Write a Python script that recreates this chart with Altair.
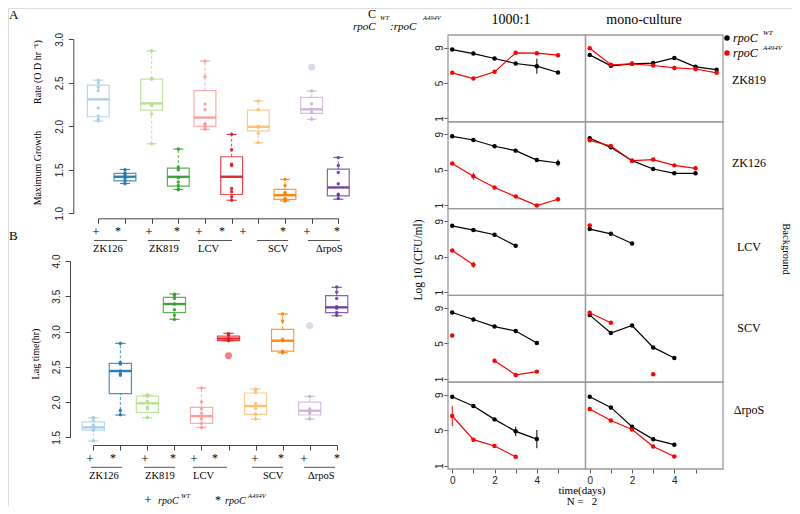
import altair as alt
import pandas as pd

# ------------------------------------------------------------------ data
STRAINS = ["ZK126", "ZK819", "LCV", "SCV", "ΔrpoS"]
ALLELES = ["WT", "A494V"]
BOXES = [f"{s} {a}" for s in STRAINS for a in ALLELES]

# Panel A : maximum growth rate (box statistics + individual replicates)
A_LO = [2.06, 1.343, 1.80, 1.274, 1.965, 1.15, 1.81, 1.143, 2.08, 1.162]
A_Q1 = [2.11, 1.373, 2.186, 1.312, 2.00, 1.216, 1.948, 1.159, 2.148, 1.20]
A_MED = [2.31, 1.42, 2.263, 1.419, 2.10, 1.42, 1.994, 1.208, 2.195, 1.297]
A_Q3 = [2.474, 1.458, 2.543, 1.52, 2.41, 1.65, 2.186, 1.274, 2.333, 1.507]
A_HI = [2.53, 1.504, 2.865, 1.738, 2.75, 1.907, 2.29, 1.389, 2.405, 1.642]
A_PTS = [
    [2.53, 2.50, 2.45, 2.41, 2.21, 2.12, 2.08, 2.06],
    [1.50, 1.46, 1.44, 1.42, 1.40, 1.37, 1.34],
    [2.87, 2.55, 2.54, 2.26, 2.25, 2.24, 2.14, 1.80],
    [1.74, 1.53, 1.50, 1.41, 1.36, 1.32, 1.28, 1.27],
    [2.75, 2.57, 2.255, 2.19, 2.03, 2.02, 1.98, 1.965],
    [1.91, 1.73, 1.565, 1.55, 1.285, 1.247, 1.19, 1.15],
    [2.29, 2.19, 2.00, 1.99, 1.92, 1.81],
    [1.39, 1.32, 1.24, 1.23, 1.17, 1.16, 1.15, 1.14],
    [2.405, 2.26, 2.195, 2.16, 2.08],
    [1.64, 1.55, 1.47, 1.34, 1.22, 1.21, 1.17],
]
A_OUT = [[], [], [], [], [], [], [], [], [2.678], []]

# Panel B : lag time
B_LO = [1.447, 1.816, 1.777, 3.173, 1.641, 2.87, 1.755, 2.70, 1.759, 3.224]
B_Q1 = [1.603, 2.12, 1.853, 3.267, 1.698, 2.87, 1.826, 2.723, 1.816, 3.267]
B_MED = [1.641, 2.44, 1.982, 3.39, 1.80, 2.90, 1.943, 2.87, 1.877, 3.343]
B_Q3 = [1.72, 2.549, 2.085, 3.485, 1.925, 2.936, 2.128, 3.031, 2.00, 3.508]
B_HI = [1.777, 2.833, 2.10, 3.532, 2.20, 2.975, 2.184, 3.248, 2.08, 3.627]
B_PTS = [
    [1.78, 1.74, 1.67, 1.65, 1.62, 1.60, 1.45],
    [2.83, 2.56, 2.54, 2.44, 2.40, 2.38, 1.88, 1.82],
    [2.10, 2.08, 2.01, 1.93, 1.90, 1.78],
    [3.53, 3.51, 3.47, 3.39, 3.31, 3.23, 3.17],
    [2.20, 2.00, 1.90, 1.84, 1.76, 1.70, 1.64],
    [2.97, 2.95, 2.90, 2.88, 2.87],
    [2.18, 2.14, 1.98, 1.91, 1.83, 1.76],
    [3.25, 3.15, 2.89, 2.87, 2.72, 2.70],
    [2.08, 1.90, 1.87, 1.84, 1.76],
    [3.63, 3.56, 3.47, 3.35, 3.33, 3.27, 3.23],
]
B_OUT = [[], [], [], [], [], [2.657], [], [], [3.082], []]

# Panel C : log10 CFU/ml by day (None = no count that day)
C_ROWS = ["ZK819", "ZK126", "LCV", "SCV", "ΔrpoS"]
C_COLS = ["1000:1", "mono-culture"]
ZK819_CO_WT = [8.77, 8.32, 7.76, 7.20, 6.90, 6.18]
ZK819_CO_MUT = [6.15, 5.50, 6.26, 8.40, 8.36, 8.14]
ZK819_MO_WT = [8.17, 6.94, 7.16, 7.25, 7.82, 6.82, 6.50]
ZK819_MO_MUT = [8.92, 7.06, 7.16, 6.97, 6.70, 6.58, 6.15]
ZK126_CO_WT = [8.77, 8.36, 7.65, 7.16, 6.10, 5.77]
ZK126_CO_MUT = [5.70, 4.27, 3.00, 1.98, 0.97, 1.68]
ZK126_MO_WT = [8.55, 7.53, 6.03, 5.09, 4.60, 4.60]
ZK126_MO_MUT = [8.32, 7.68, 6.03, 6.15, 5.50, 5.17]
LCV_CO_WT = [8.47, 7.99, 7.46, 6.22]
LCV_CO_MUT = [5.70, 4.08]
LCV_MO_WT = [8.10, 7.57, 6.48]
LCV_MO_MUT = [8.52]
SCV_CO_WT = [8.48, 7.70, 6.90, 6.40, 5.05]
SCV_CO_MUT = [5.90, None, 3.05, 1.45, 1.82]
SCV_MO_WT = [8.19, 6.17, 7.02, 4.55, 3.36]
SCV_MO_MUT = [8.45, 7.33, None, 1.52]
RPOS_CO_WT = [8.77, 7.73, 6.22, 4.87, 4.00]
RPOS_CO_MUT = [6.60, 3.93, 3.22, 2.01]
RPOS_MO_WT = [8.77, 7.57, 5.40, 3.97, 3.37]
RPOS_MO_MUT = [7.40, 6.10, 5.08, 3.16, 2.04]

ERR_BG = ["ZK819", "ZK126", "ZK126", "LCV", "ΔrpoS", "ΔrpoS", "ΔrpoS"]
ERR_COND = ["1000:1"] * 7
ERR_ALLELE = ["WT", "WT", "A494V", "A494V", "WT", "WT", "A494V"]
ERR_DAY = [4, 5, 1, 1, 3, 4, 0]
ERR_SD = [0.85, 0.38, 0.41, 0.34, 0.52, 1.03, 1.13]

# ------------------------------------------------------------------ styles / layout
PALETTE = ["#A6CEE3", "#1F78B4", "#B2DF8A", "#33A02C", "#FB9A99",
           "#E31A1C", "#FDBF6F", "#FF7F00", "#CAB2D6", "#6A3D9A"]
LINE_COLORS = ["#000000", "#FF0000"]
SERIF = "Liberation Serif"
SANS = "Liberation Sans"
AXC = "#444444"
FRAME = "#9a9a9a"

W, H = 784, 498          # whole drawing area (page minus 8px margin)
M = 8


def px(x):
    return x - M


def py(y):
    return y - M


BOX_HALF = 0.41
STAPLE_HALF = 0.19


def box_panel(lo, q1, med, q3, hi, pts, outs, ydom, yvals,
              x_first, x_last, y_top, y_bot, xaxis_y, yaxis_x):
    stats = pd.DataFrame({"box": BOXES, "pos": list(range(1, 11)), "lo": lo,
                          "q1": q1, "med": med, "q3": q3, "hi": hi})
    pdf = pd.DataFrame([(BOXES[i], i + 1, v) for i, vs in enumerate(pts) for v in vs],
                       columns=["box", "pos", "val"])
    odf = pd.DataFrame([(BOXES[i], i + 1, v) for i, vs in enumerate(outs) for v in vs],
                       columns=["box", "pos", "val"])
    xs = alt.Scale(domain=[1, 10], range=[px(x_first), px(x_last)], nice=False, zero=False)
    ys = alt.Scale(domain=ydom, range=[py(y_bot), py(y_top)], nice=False, zero=False)
    xax = alt.Axis(orient="bottom", offset=py(xaxis_y) - H, values=list(range(1, 11)),
                   labels=False, tickSize=5, domain=True, grid=False, title=None,
                   domainColor=AXC, tickColor=AXC)
    yax = alt.Axis(orient="left", offset=-px(yaxis_x), values=yvals, format=".1f",
                   labelAngle=270, labelAlign="center", labelBaseline="bottom",
                   labelPadding=4, tickSize=5, domain=True, grid=False, title=None,
                   labelFont=SANS, labelFontSize=10, labelColor="#222",
                   domainColor=AXC, tickColor=AXC, labelOverlap=False)
    col = alt.Color("box:N", scale=alt.Scale(domain=BOXES, range=PALETTE), legend=None)

    def X(f):
        return alt.X(f, type="quantitative", scale=xs, axis=xax)

    def Y(f):
        return alt.Y(f, type="quantitative", scale=ys, axis=yax)

    base = alt.Chart(stats).transform_calculate(
        xl=f"datum.pos - {BOX_HALF}", xr=f"datum.pos + {BOX_HALF}",
        sl=f"datum.pos - {STAPLE_HALF}", sr=f"datum.pos + {STAPLE_HALF}")
    wl = base.mark_rule(strokeDash=[3, 2], strokeWidth=1, opacity=0.8).encode(
        x=X("pos"), y=Y("lo"), y2=alt.Y2("q1"), color=col)
    wh = base.mark_rule(strokeDash=[3, 2], strokeWidth=1, opacity=0.8).encode(
        x=X("pos"), y=Y("q3"), y2=alt.Y2("hi"), color=col)
    sl = base.mark_rule(strokeWidth=1.2, opacity=0.85).encode(
        x=X("sl"), x2=alt.X2("sr"), y=Y("lo"), color=col)
    sh = base.mark_rule(strokeWidth=1.2, opacity=0.85).encode(
        x=X("sl"), x2=alt.X2("sr"), y=Y("hi"), color=col)
    box = base.mark_rect(filled=False, strokeWidth=1.2, opacity=0.8).encode(
        x=X("xl"), x2=alt.X2("xr"), y=Y("q1"), y2=alt.Y2("q3"), color=col)
    mline = base.mark_rule(strokeWidth=2.4, opacity=0.95).encode(
        x=X("xl"), x2=alt.X2("xr"), y=Y("med"), color=col)
    dots = alt.Chart(pdf).mark_circle(size=12, opacity=0.9).encode(
        x=X("pos"), y=Y("val"), color=col)
    layers = [wl, wh, sl, sh, box, mline, dots]
    if len(odf):
        layers.append(alt.Chart(odf).mark_circle(size=48, opacity=0.55).encode(
            x=X("pos"), y=Y("val"), color=col))
    return alt.layer(*layers)


# ------------------------------------------------------------------ panel C table
C_SERIES = [
    ("ZK819", "1000:1", "WT", ZK819_CO_WT), ("ZK819", "1000:1", "A494V", ZK819_CO_MUT),
    ("ZK819", "mono-culture", "WT", ZK819_MO_WT), ("ZK819", "mono-culture", "A494V", ZK819_MO_MUT),
    ("ZK126", "1000:1", "WT", ZK126_CO_WT), ("ZK126", "1000:1", "A494V", ZK126_CO_MUT),
    ("ZK126", "mono-culture", "WT", ZK126_MO_WT), ("ZK126", "mono-culture", "A494V", ZK126_MO_MUT),
    ("LCV", "1000:1", "WT", LCV_CO_WT), ("LCV", "1000:1", "A494V", LCV_CO_MUT),
    ("LCV", "mono-culture", "WT", LCV_MO_WT), ("LCV", "mono-culture", "A494V", LCV_MO_MUT),
    ("SCV", "1000:1", "WT", SCV_CO_WT), ("SCV", "1000:1", "A494V", SCV_CO_MUT),
    ("SCV", "mono-culture", "WT", SCV_MO_WT), ("SCV", "mono-culture", "A494V", SCV_MO_MUT),
    ("ΔrpoS", "1000:1", "WT", RPOS_CO_WT), ("ΔrpoS", "1000:1", "A494V", RPOS_CO_MUT),
    ("ΔrpoS", "mono-culture", "WT", RPOS_MO_WT), ("ΔrpoS", "mono-culture", "A494V", RPOS_MO_MUT),
]
rows = []
for bg, cond, al, vals in C_SERIES:
    seg = 0
    for d, v in enumerate(vals):
        if v is None:
            seg += 1
            continue
        rows.append(dict(bg=bg, cond=cond, allele=al, day=d, val=v, seg=f"{al}-{seg}"))
CDF = pd.DataFrame(rows)

erows = []
for bg, cond, al, d, sd in zip(ERR_BG, ERR_COND, ERR_ALLELE, ERR_DAY, ERR_SD):
    v = CDF[(CDF.bg == bg) & (CDF.cond == cond) & (CDF.allele == al) & (CDF.day == d)].val.iloc[0]
    erows.append(dict(bg=bg, cond=cond, allele=al, day=d, lo=v - sd, hi=v + sd))
EDF = pd.DataFrame(erows)

C_XDOM = [-0.2, 6.3]
C_YDOM = [0.628, 10.41]
C_LEFT = [448.0, 585.5]
C_W = 137.5
C_TOP0 = 35.0
C_H = 86.8


def c_panel(r, c):
    bg, cond = C_ROWS[r], C_COLS[c]
    left = C_LEFT[c]
    top = C_TOP0 + r * C_H
    xs = alt.Scale(domain=C_XDOM, range=[px(left), px(left + C_W)], nice=False, zero=False)
    ys = alt.Scale(domain=C_YDOM, range=[py(top + C_H), py(top)], nice=False, zero=False)
    xax = None
    if r == len(C_ROWS) - 1:
        xax = alt.Axis(orient="bottom", offset=py(top + C_H) - H, values=[0, 1, 2, 3, 4, 5],
                       labelExpr="datum.value % 2 === 0 ? datum.label : ''",
                       tickSize=4, labelPadding=2, domain=False, grid=False, title=None,
                       labelFont=SANS, labelFontSize=10, labelColor="#222",
                       tickColor="#555", labelOverlap=False)
    yax = None
    if c == 0:
        yax = alt.Axis(orient="left", offset=-px(left), values=[1, 5, 9],
                       labelAngle=270, labelAlign="center", labelBaseline="bottom",
                       tickSize=4, labelPadding=0, domain=False, grid=False, title=None,
                       labelFont=SANS, labelFontSize=10, labelColor="#222",
                       tickColor="#555", labelOverlap=False)

    def X(f):
        return alt.X(f, type="quantitative", scale=xs, axis=xax)

    def Y(f):
        return alt.Y(f, type="quantitative", scale=ys, axis=yax)

    ccol = alt.Color("allele:N", scale=alt.Scale(domain=ALLELES, range=LINE_COLORS), legend=None)
    frame = pd.DataFrame({"x0": [C_XDOM[0]], "x1": [C_XDOM[1]],
                          "y0": [C_YDOM[0]], "y1": [C_YDOM[1]]})
    layers = [alt.Chart(frame).mark_rect(fillOpacity=0, stroke=FRAME, strokeWidth=1.3).encode(
        x=X("x0"), x2=alt.X2("x1"), y=Y("y0"), y2=alt.Y2("y1"))]
    sub = CDF[(CDF.bg == bg) & (CDF.cond == cond)]
    layers.append(alt.Chart(sub).mark_line(strokeWidth=1.2).encode(
        x=X("day"), y=Y("val"), color=ccol, detail="seg:N", order="day:Q"))
    layers.append(alt.Chart(sub).mark_circle(size=20, opacity=1).encode(
        x=X("day"), y=Y("val"), color=ccol))
    esub = EDF[(EDF.bg == bg) & (EDF.cond == cond)]
    if len(esub):
        layers.append(alt.Chart(esub).mark_rule(strokeWidth=1).encode(
            x=X("day"), y=Y("lo"), y2=alt.Y2("hi"), color=ccol))
    return alt.layer(*layers)


# ------------------------------------------------------------------ annotations
def label(s, x, y, size=11, angle=0, align="center", baseline="middle",
          italic=False, font=SERIF, color="#000000"):
    return alt.Chart(pd.DataFrame({"t": [s]})).mark_text(
        font=font, fontSize=size, angle=angle, align=align, baseline=baseline,
        fontStyle="italic" if italic else "normal", fill=color, color=color).encode(
        x=alt.value(px(x)), y=alt.value(py(y)), text="t:N")


def hline(x0, x1, y):
    return alt.Chart(pd.DataFrame({"k": [0]})).mark_rule(color="#555", strokeWidth=1).encode(
        x=alt.value(px(x0)), x2=alt.value(px(x1)), y=alt.value(py(y)))


def dot(x, y, color):
    return alt.Chart(pd.DataFrame({"k": [0]})).mark_circle(size=30, opacity=1, color=color).encode(
        x=alt.value(px(x)), y=alt.value(py(y)))


NBSP = "\u00a0"
ann = []
# panel letters
ann += [label("A", 9, 9, 13, align="left", baseline="top"),
        label("B", 9, 230, 13, align="left", baseline="top"),
        label("C", 372, 8.5, 12, baseline="top")]
# axis titles A, B
ann += [label("Maximum Growth", 38, 168, 10, angle=270),
        label("Rate (O D hr ⁻¹)", 38, 72, 10, angle=270),
        label("Lag time(hr)", 36, 354, 10, angle=270)]
# +/* genotype marks under the boxes
A_PLUS_X = [96, 149, 199, 243, 307]
A_STAR_X = [118, 177, 222, 283, 337]
B_PLUS_X = [90, 145, 194, 255, 304]
B_STAR_X = [113, 173, 215, 281, 337]
for xx in A_PLUS_X:
    ann.append(label("+", xx, 235.5, 13, baseline="alphabetic"))
for xx in A_STAR_X:
    ann.append(label("*", xx, 234.5, 12, baseline="alphabetic"))
for xx in B_PLUS_X:
    ann.append(label("+", xx, 462.5, 13, baseline="alphabetic"))
for xx in B_STAR_X:
    ann.append(label("*", xx, 462.0, 12, baseline="alphabetic"))
A_UL = [(94, 127), (148, 180), (198, 232), (257, 288), (308, 340)]
B_UL = [(91, 122), (144, 175), (193, 227), (252, 283), (304, 335)]
A_LBL_X = [93, 149, 198, 268, 316]
B_LBL_X = [89, 145, 193, 263, 308]
for (x0, x1), lx, s in zip(A_UL, A_LBL_X, STRAINS):
    ann.append(hline(x0, x1, 240.5))
    ann.append(label(s, lx, 248.5, 10.5, align="left"))
for (x0, x1), lx, s in zip(B_UL, B_LBL_X, STRAINS):
    ann.append(hline(x0, x1, 467.3))
    ann.append(label(s, lx, 475.5, 10.5, align="left"))
# genotype key under B
ann += [label("+", 148, 504, 13, baseline="alphabetic"),
        label("rpoC", 158, 504, 10, align="left", baseline="alphabetic", italic=True),
        label("WT", 181, 496, 6.5, align="left", italic=True),
        label("*", 218, 504, 12, baseline="alphabetic"),
        label("rpoC", 225, 504, 10, align="left", baseline="alphabetic", italic=True),
        label("A494V", 248, 496, 6.5, align="left", italic=True)]
# panel C header
ann += [label("rpoC", 353, 29.5, 11, align="left", baseline="alphabetic", italic=True),
        label("WT", 380, 18, 6.5, align="left", italic=True),
        label(":rpoC", 390, 29.5, 11, align="left", baseline="alphabetic", italic=True),
        label("A494V", 423, 18, 6.5, align="left", italic=True),
        label("1000:1", 511, 20, 14),
        label("mono-culture", 644, 20, 14)]
# legend of panel C
ann += [dot(727, 38, LINE_COLORS[0]), dot(727, 53, LINE_COLORS[1]),
        label("rpoC", 733, 42, 12, align="left", baseline="alphabetic", italic=True),
        label("WT", 763, 33, 7, align="left", italic=True),
        label("rpoC", 733, 57, 12, align="left", baseline="alphabetic", italic=True),
        label("A494V", 763, 48, 7, align="left", italic=True)]
# strip labels of panel C
C_ROW_LABEL_Y = [80, 163, 247, 328, 410]
for s, yy in zip(C_ROWS, C_ROW_LABEL_Y):
    ann.append(label(s, 749, yy, 12))
ann += [label("Background", 785.5, 249, 10.5, angle=90),
        label("Log 10 (CFU/ml)", 419, 260, 11.5, angle=270),
        label("time(days)", 582, 491, 11),
        label(f"N ={NBSP}{NBSP}{NBSP}2", 582, 501.5, 11)]

# ------------------------------------------------------------------ assemble
panel_a = box_panel(A_LO, A_Q1, A_MED, A_Q3, A_HI, A_PTS, A_OUT, [1.0, 3.0],
                    [1.0, 1.5, 2.0, 2.5, 3.0], 98.3, 338.3, 39.3, 213.3, 218.3, 73.3)
panel_b = box_panel(B_LO, B_Q1, B_MED, B_Q3, B_HI, B_PTS, B_OUT, [1.5, 4.0],
                    [1.5, 2.0, 2.5, 3.0, 3.5, 4.0], 93.3, 336.7, 261.0, 437.3, 445.0, 70.0)
c_panels = [c_panel(r, c) for r in range(len(C_ROWS)) for c in range(len(C_COLS))]

chart = alt.layer(panel_a, panel_b, *c_panels, *ann).resolve_scale(
    x="independent", y="independent", color="independent"
).resolve_axis(
    x="independent", y="independent"
).properties(
    width=W, height=H, padding=0, autosize=alt.AutoSizeParams(type="none")
).configure_view(stroke=None).configure(background="white")

chart.save("out.html", embed_options={"renderer": "svg", "actions": False})
